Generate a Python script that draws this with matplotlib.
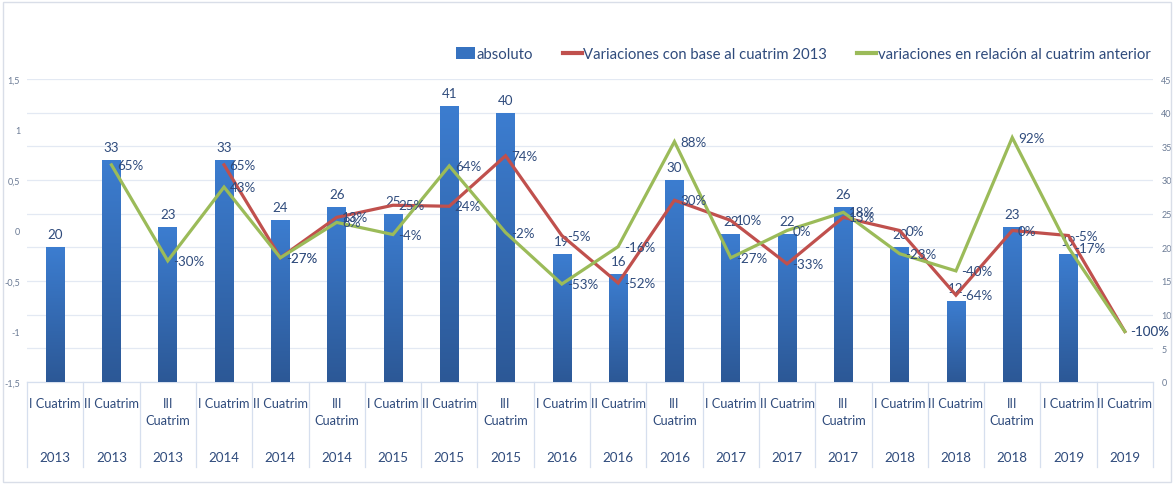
import matplotlib
matplotlib.use('Agg')
import matplotlib.pyplot as plt
import numpy as np
from matplotlib.colors import LinearSegmentedColormap
from matplotlib.patches import Rectangle, Patch
from matplotlib.lines import Line2D

# ---------------- data ----------------
cuatrims = ['I Cuatrim', 'II Cuatrim', 'III\nCuatrim'] * 6 + ['I Cuatrim', 'II Cuatrim']
years = ['2013', '2013', '2013', '2014', '2014', '2014', '2015', '2015', '2015',
         '2016', '2016', '2016', '2017', '2017', '2017', '2018', '2018', '2018',
         '2019', '2019']
absoluto = [20, 33, 23, 33, 24, 26, 25, 41, 40, 19, 16, 30, 22, 22, 26, 20, 12, 23, 19, None]
var_base = [None, None, None, 0.65, -0.27, 0.13, 0.25, 0.24, 0.74, -0.05, -0.52, 0.30,
            0.10, -0.33, 0.13, 0.00, -0.64, 0.00, -0.05, -1.00]
var_prev = [None, 0.65, -0.30, 0.43, -0.27, 0.08, -0.04, 0.64, -0.02, -0.53, -0.16, 0.88,
            -0.27, 0.00, 0.18, -0.23, -0.40, 0.92, -0.17, -1.00]
left_ticks = [-1.5, -1, -0.5, 0, 0.5, 1, 1.5]
left_tick_labels = ['-1,5', '-1', '-0,5', '0', '0,5', '1', '1,5']
right_ticks = list(range(0, 50, 5))

# ---------------- style ----------------
FONT = ['Lato', 'DejaVu Sans']
plt.rcParams['font.family'] = FONT
TXT = '#2F4B7C'
TICK = '#6B7B95'
GRID = '#E3E9F3'
SEP = '#D6DFEE'
RED = '#C0504D'
GREEN = '#9BBB59'
LBL = 9.6

W, H = 1174, 485
fig = plt.figure(figsize=(W / 100, H / 100), dpi=100)
fig.patch.set_facecolor('white')

x0p, x1p, y0p, y1p = 27, 1153, 80, 383
ax = fig.add_axes([x0p / W, 1 - y1p / H, (x1p - x0p) / W, (y1p - y0p) / H])
axl = ax.twinx()

n = len(years)
x = np.arange(n)

# bars (right axis)
ax.set_ylim(0, 45)
ax.set_xlim(-0.5, n - 0.5)
cmap = LinearSegmentedColormap.from_list('bg', ['#2C5896', '#3C7DD0'])
grad = np.linspace(0, 1, 256).reshape(-1, 1)
bw = 0.33
for i, v in enumerate(absoluto):
    if v is None:
        continue
    b = ax.bar(x[i], v, width=bw, color='#3672C0', zorder=2)[0]
    im = ax.imshow(grad, extent=[x[i] - bw / 2, x[i] + bw / 2, 0, v], origin='lower',
                   aspect='auto', cmap=cmap, zorder=2.1)
    im.set_clip_path(b)
    ax.annotate(str(v), (x[i], v), xytext=(0, 5), textcoords='offset points',
                ha='center', va='bottom', fontsize=LBL, color=TXT, zorder=5)
ax.set_ylim(0, 45)
ax.set_xlim(-0.5, n - 0.5)

ax.set_yticks(right_ticks)
ax.yaxis.tick_right()
ax.tick_params(axis='y', length=0, labelsize=6.5, labelcolor=TICK, pad=6)
ax.grid(axis='y', color=GRID, linewidth=0.9, zorder=0)
ax.set_axisbelow(True)
ax.set_xticks([])
for s in ax.spines.values():
    s.set_visible(False)

# lines (left axis)
axl.set_ylim(-1.5, 1.5)
axl.set_xlim(-0.5, n - 0.5)
drawn = set()
for data, col in ((var_base, RED), (var_prev, GREEN)):
    xs = [i for i, v in enumerate(data) if v is not None]
    ys = [v for v in data if v is not None]
    axl.plot(xs, ys, color=col, linewidth=2.3, zorder=3, solid_joinstyle='miter')
    for xi, yi in zip(xs, ys):
        txt = f"{int(round(yi * 100))}%"
        key = (xi, txt)
        axl.annotate(txt, (xi, yi), xytext=(4, 0),
                     textcoords='offset points', ha='left', va='center',
                     fontsize=LBL, color=TXT, zorder=6,
                     alpha=0.35 if key in drawn else 1.0)
        drawn.add(key)
axl.yaxis.tick_left()
axl.set_yticks(left_ticks)
axl.set_yticklabels(left_tick_labels)
axl.tick_params(axis='y', length=0, labelsize=6.5, labelcolor=TICK, pad=5)
for s in axl.spines.values():
    s.set_visible(False)

# category table below
trans = ax.get_xaxis_transform()
hp = y1p - y0p
ybot = -(468 - y1p) / hp
ax.plot([-0.5, n - 0.5], [0, 0], transform=trans, color=SEP, lw=0.9, clip_on=False)
for b in np.arange(-0.5, n, 1.0):
    ax.plot([b, b], [0, ybot], transform=trans, color=SEP, lw=0.9, clip_on=False)
for i in range(n):
    ax.text(x[i], -(398 - y1p) / hp, cuatrims[i], transform=trans, ha='center', va='top',
            fontsize=9.2, color=TXT, linespacing=1.5)
    ax.text(x[i], -(458 - y1p) / hp, years[i], transform=trans, ha='center', va='center',
            fontsize=9.6, color=TXT)

# legend
handles = [Patch(facecolor='#3672C0', edgecolor='none'),
           Line2D([], [], color=RED, lw=3),
           Line2D([], [], color=GREEN, lw=3)]
labels = ['absoluto', 'Variaciones con base al cuatrim 2013',
          'variaciones en relación al cuatrim anterior']
fig.legend(handles, labels, loc='center', bbox_to_anchor=(803 / W, 1 - 55 / H), ncol=3,
           frameon=False, fontsize=10.7, labelcolor=TXT, handlelength=1.3,
           handletextpad=0.1, columnspacing=2.0, handleheight=0.8)

# outer border
fig.add_artist(Rectangle((3 / W, 2 / H), (W - 6) / W, (H - 5) / H, transform=fig.transFigure,
                         fill=False, edgecolor='#D9DEE8', lw=1))

fig.savefig('out.png', dpi=100)
